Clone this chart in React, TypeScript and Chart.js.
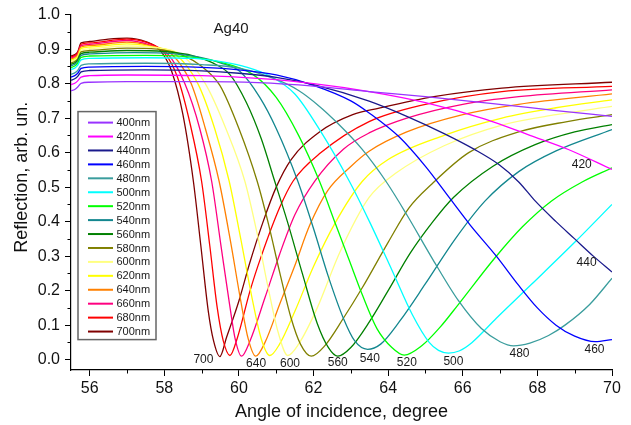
import { useEffect, useRef } from "react";
import { Chart, registerables } from "chart.js";

Chart.register(...registerables);

type Pt = [number, number];

// Reflection vs angle of incidence, one series per wavelength
const r400: Pt[] = [
  [55.5, 0.779], [55.6, 0.783], [55.68, 0.79], [55.77, 0.801], [56.0, 0.804], [57.0, 0.806],
  [59.0, 0.806], [60.5, 0.803], [62.0, 0.793], [63.49, 0.777], [65.0, 0.762], [67.05, 0.739],
  [68.5, 0.722], [70.0, 0.705],
];
const r420: Pt[] = [
  [55.5, 0.797], [55.6, 0.801], [55.68, 0.808], [55.77, 0.819], [56.0, 0.823], [57.0, 0.825],
  [59.0, 0.823], [60.5, 0.815], [62.0, 0.8], [63.49, 0.777], [65.0, 0.745], [66.6, 0.697],
  [67.8, 0.65], [68.83, 0.609], [70.0, 0.551],
];
const r440: Pt[] = [
  [55.5, 0.81], [55.6, 0.814], [55.68, 0.821], [55.77, 0.834], [56.0, 0.838], [57.5, 0.84],
  [59.0, 0.837], [60.0, 0.83], [61.0, 0.818], [62.0, 0.797], [63.49, 0.749], [64.5, 0.705],
  [65.5, 0.655], [66.3, 0.61], [66.96, 0.566], [67.5, 0.515], [67.94, 0.46], [68.5, 0.4],
  [69.0, 0.35], [69.5, 0.3], [70.0, 0.254],
];
const r460: Pt[] = [
  [55.5, 0.819], [55.6, 0.823], [55.68, 0.83], [55.77, 0.844], [56.0, 0.848], [57.5, 0.85],
  [59.0, 0.847], [60.0, 0.84], [61.0, 0.825], [62.0, 0.795], [63.0, 0.75], [63.49, 0.715],
  [64.3, 0.645], [65.0, 0.56], [65.67, 0.465], [66.2, 0.39], [66.9, 0.3], [67.5, 0.215],
  [68.0, 0.15], [68.5, 0.1], [69.0, 0.068], [69.55, 0.052], [70.0, 0.058],
];
const r480: Pt[] = [
  [55.5, 0.827], [55.6, 0.831], [55.68, 0.838], [55.77, 0.853], [56.0, 0.857], [57.5, 0.859],
  [59.0, 0.855], [60.0, 0.845], [61.0, 0.812], [61.6, 0.78], [62.16, 0.734], [62.6, 0.69],
  [63.3, 0.61], [63.94, 0.517], [64.5, 0.42], [65.2, 0.29], [65.89, 0.17], [66.5, 0.09],
  [67.0, 0.052], [67.36, 0.04], [67.8, 0.048], [68.3, 0.07], [68.74, 0.1], [69.4, 0.16],
  [70.0, 0.236],
];
const r500: Pt[] = [
  [55.5, 0.841], [55.6, 0.845], [55.68, 0.853], [55.77, 0.869], [56.0, 0.873], [57.5, 0.875],
  [58.8, 0.873], [59.6, 0.862], [60.2, 0.848], [60.83, 0.822], [61.5, 0.77], [62.2, 0.66],
  [62.96, 0.517], [63.5, 0.4], [64.1, 0.26], [64.65, 0.13], [65.1, 0.05], [65.35, 0.027],
  [65.62, 0.019], [65.9, 0.025], [66.25, 0.05], [66.9, 0.12], [67.85, 0.219], [69.0, 0.34],
  [70.0, 0.45],
];
const r520: Pt[] = [
  [55.5, 0.847], [55.6, 0.851], [55.68, 0.859], [55.77, 0.876], [56.0, 0.88], [57.5, 0.882],
  [58.5, 0.879], [59.5, 0.862], [60.38, 0.826], [61.0, 0.76], [61.6, 0.65], [62.16, 0.517],
  [62.6, 0.39], [62.95, 0.29], [63.3, 0.19], [63.7, 0.09], [64.1, 0.035], [64.43, 0.013],
  [64.9, 0.04], [65.4, 0.095], [65.89, 0.161], [66.87, 0.296], [67.6, 0.385], [68.38, 0.46],
  [69.2, 0.515], [70.0, 0.556],
];
const r540: Pt[] = [
  [55.5, 0.852], [55.6, 0.856], [55.68, 0.864], [55.77, 0.882], [56.0, 0.886], [57.2, 0.89],
  [58.2, 0.887], [59.0, 0.875], [59.5, 0.86], [60.03, 0.835], [60.56, 0.76], [61.0, 0.67],
  [61.58, 0.517], [62.0, 0.38], [62.4, 0.24], [62.8, 0.12], [63.1, 0.055], [63.45, 0.03],
  [63.8, 0.045], [64.3, 0.11], [65.0, 0.22], [65.8, 0.35], [66.6, 0.46], [67.5, 0.545],
  [68.5, 0.605], [70.0, 0.667],
];
const r560: Pt[] = [
  [55.5, 0.856], [55.6, 0.86], [55.68, 0.868], [55.77, 0.887], [56.0, 0.891], [57.0, 0.896],
  [58.0, 0.893], [58.8, 0.88], [59.3, 0.86], [59.76, 0.826], [60.2, 0.745], [60.6, 0.64],
  [60.96, 0.517], [61.3, 0.4], [61.7, 0.25], [62.1, 0.105], [62.4, 0.035], [62.65, 0.01],
  [63.0, 0.035], [63.5, 0.11], [64.0, 0.2], [64.6, 0.31], [65.2, 0.4], [65.75, 0.47],
  [66.8, 0.56], [67.94, 0.623], [69.0, 0.66], [70.0, 0.681],
];
const r580: Pt[] = [
  [55.5, 0.86], [55.6, 0.864], [55.68, 0.872], [55.77, 0.892], [56.0, 0.896], [57.0, 0.903],
  [57.8, 0.9], [58.5, 0.882], [59.0, 0.85], [59.49, 0.795], [60.0, 0.67], [60.49, 0.517],
  [60.8, 0.39], [61.1, 0.25], [61.4, 0.12], [61.65, 0.045], [61.94, 0.01], [62.3, 0.04],
  [62.8, 0.12], [63.31, 0.209], [64.0, 0.34], [64.56, 0.44], [65.18, 0.51], [66.16, 0.6],
  [67.5, 0.66], [68.8, 0.69], [70.0, 0.71],
];
const r600: Pt[] = [
  [55.5, 0.864], [55.6, 0.868], [55.68, 0.876], [55.77, 0.897], [56.0, 0.901], [57.0, 0.909],
  [57.7, 0.905], [58.5, 0.88], [59.1, 0.8], [59.65, 0.67], [60.16, 0.517], [60.5, 0.36],
  [60.8, 0.2], [61.05, 0.08], [61.31, 0.012], [61.6, 0.045], [62.1, 0.15], [62.7, 0.31],
  [63.49, 0.47], [64.2, 0.54], [65.5, 0.62], [67.05, 0.68], [68.5, 0.71], [70.0, 0.734],
];
const r620: Pt[] = [
  [55.5, 0.868], [55.6, 0.872], [55.68, 0.88], [55.77, 0.902], [56.0, 0.906], [57.0, 0.915],
  [57.6, 0.908], [58.3, 0.885], [58.9, 0.8], [59.35, 0.67], [59.74, 0.517], [60.05, 0.35],
  [60.35, 0.18], [60.6, 0.06], [60.83, 0.012], [61.09, 0.045], [61.5, 0.14], [62.0, 0.27],
  [62.6, 0.4], [63.31, 0.517], [64.0, 0.58], [65.5, 0.65], [67.05, 0.7], [68.5, 0.73],
  [70.0, 0.753],
];
const r640: Pt[] = [
  [55.5, 0.871], [55.6, 0.875], [55.68, 0.883], [55.77, 0.906], [56.0, 0.91], [57.0, 0.92],
  [57.6, 0.91], [58.2, 0.885], [58.72, 0.8], [59.1, 0.67], [59.47, 0.517], [59.78, 0.34],
  [60.05, 0.17], [60.25, 0.06], [60.45, 0.01], [60.7, 0.05], [61.09, 0.16], [61.49, 0.27],
  [61.9, 0.39], [62.38, 0.49], [63.0, 0.56], [63.49, 0.604], [64.5, 0.66], [66.0, 0.71],
  [67.5, 0.74], [70.0, 0.77],
];
const r660: Pt[] = [
  [55.5, 0.874], [55.6, 0.878], [55.68, 0.886], [55.77, 0.91], [56.0, 0.914], [57.0, 0.925],
  [57.6, 0.912], [58.1, 0.885], [58.55, 0.8], [58.95, 0.67], [59.27, 0.517], [59.52, 0.33],
  [59.75, 0.16], [59.9, 0.06], [60.07, 0.01], [60.3, 0.055], [60.7, 0.18], [61.09, 0.305],
  [61.5, 0.42], [62.03, 0.517], [62.8, 0.61], [63.49, 0.657], [64.5, 0.7], [66.0, 0.74],
  [67.5, 0.762], [70.0, 0.782],
];
const r680: Pt[] = [
  [55.5, 0.877], [55.6, 0.881], [55.68, 0.889], [55.77, 0.914], [56.0, 0.918], [57.0, 0.929],
  [57.5, 0.92], [58.0, 0.89], [58.35, 0.82], [58.7, 0.68], [59.0, 0.517], [59.22, 0.33],
  [59.42, 0.15], [59.58, 0.055], [59.76, 0.012], [59.95, 0.06], [60.3, 0.2], [60.6, 0.3],
  [61.09, 0.44], [61.45, 0.517], [62.2, 0.6], [63.49, 0.69], [65.0, 0.74], [67.05, 0.777],
  [70.0, 0.792],
];
const r700: Pt[] = [
  [55.5, 0.88], [55.6, 0.884], [55.68, 0.892], [55.77, 0.918], [56.0, 0.922], [56.5, 0.929],
  [57.0, 0.932], [57.5, 0.922], [57.9, 0.895], [58.2, 0.835], [58.5, 0.71], [58.78, 0.517],
  [58.98, 0.33], [59.18, 0.14], [59.32, 0.055], [59.49, 0.009], [59.67, 0.065], [60.0, 0.17],
  [60.29, 0.28], [60.65, 0.4], [61.0, 0.5], [61.4, 0.58], [62.16, 0.66], [63.05, 0.71],
  [63.76, 0.729], [65.27, 0.763], [67.05, 0.787], [70.0, 0.804],
];

const wavelengths = [400, 420, 440, 460, 480, 500, 520, 540, 560, 580, 600, 620, 640, 660, 680, 700];
const curves: Pt[][] = [
  r400, r420, r440, r460, r480, r500, r520, r540, r560, r580, r600, r620, r640, r660, r680, r700,
];
const colors = [
  "#9933ff", "#ff00ff", "#1a1a8c", "#0000ff", "#3a9d9d", "#00ffff", "#00ff00", "#13878f",
  "#008000", "#808000", "#ffff80", "#ffff00", "#ff8000", "#ff0080", "#ff0000", "#800000",
];

const xTicks = [56, 58, 60, 62, 64, 66, 68, 70];
const xMinor = [57, 59, 61, 63, 65, 67, 69];
const yTicks = [0, 0.1, 0.2, 0.3, 0.4, 0.5, 0.6, 0.7, 0.8, 0.9, 1.0];
const yMinor = [0.05, 0.15, 0.25, 0.35, 0.45, 0.55, 0.65, 0.75, 0.85, 0.95];

// dip labels: text, angle, reflection
const dipLabels: [string, number, number][] = [
  ["700", 59.05, -0.001],
  ["640", 60.46, -0.013],
  ["600", 61.37, -0.013],
  ["560", 62.65, -0.009],
  ["540", 63.51, 0.004],
  ["520", 64.5, -0.009],
  ["500", 65.75, -0.006],
  ["480", 67.52, 0.016],
  ["460", 69.53, 0.028],
  ["440", 69.32, 0.282],
  ["420", 69.19, 0.566],
];
const sampleName = "Ag40";
const sampleNamePos: [number, number] = [59.79, 0.958];

const xTitle = "Angle of incidence, degree";
const yTitle = "Reflection, arb. un.";

const FONT = "'Liberation Sans', Arial, Helvetica, sans-serif";

const overlay = {
  id: "overlay",
  afterDraw(chart: any) {
    const { ctx, chartArea } = chart;
    const xs = chart.scales.x;
    const ys = chart.scales.y;
    ctx.save();

    // minor ticks
    ctx.strokeStyle = "#000";
    ctx.lineWidth = 1;
    for (const v of yMinor) {
      const py = Math.round(ys.getPixelForValue(v)) + 0.5;
      ctx.beginPath();
      ctx.moveTo(chartArea.left - 3.5, py);
      ctx.lineTo(chartArea.left, py);
      ctx.stroke();
    }
    for (const v of xMinor) {
      const px = Math.round(xs.getPixelForValue(v)) + 0.5;
      ctx.beginPath();
      ctx.moveTo(px, chartArea.bottom);
      ctx.lineTo(px, chartArea.bottom + 3.5);
      ctx.stroke();
    }

    // wavelength labels at the dips
    ctx.fillStyle = "#1a1a1a";
    ctx.font = `12px ${FONT}`;
    ctx.textAlign = "center";
    ctx.textBaseline = "middle";
    for (const [t, a, r] of dipLabels) {
      ctx.fillText(t, xs.getPixelForValue(a), ys.getPixelForValue(r));
    }

    // sample name
    ctx.font = `15px ${FONT}`;
    ctx.fillText(sampleName, xs.getPixelForValue(sampleNamePos[0]), ys.getPixelForValue(sampleNamePos[1]));

    // axis titles
    ctx.fillStyle = "#111";
    ctx.font = `18px ${FONT}`;
    ctx.fillText(xTitle, (chartArea.left + chartArea.right) / 2, chartArea.bottom + 42);
    ctx.save();
    ctx.translate(chartArea.left - 49, (chartArea.top + chartArea.bottom) / 2 - 15);
    ctx.rotate(-Math.PI / 2);
    ctx.fillText(yTitle, 0, 0);
    ctx.restore();

    // legend box
    const lx = chartArea.left + 7;
    const ly = chartArea.top + 97;
    const lw = 78;
    const lh = 228;
    ctx.fillStyle = "#fff";
    ctx.fillRect(lx, ly, lw, lh);
    ctx.strokeStyle = "#666";
    ctx.lineWidth = 1.5;
    ctx.strokeRect(lx, ly, lw, lh);
    ctx.font = `11px ${FONT}`;
    ctx.textAlign = "left";
    ctx.fillStyle = "#1a1a1a";
    const step = 13.93;
    wavelengths.forEach((w, i) => {
      const ry = ly + 11 + i * step;
      ctx.strokeStyle = colors[i];
      ctx.lineWidth = 2;
      ctx.beginPath();
      ctx.moveTo(lx + 10, ry);
      ctx.lineTo(lx + 35, ry);
      ctx.stroke();
      ctx.fillText(`${w}nm`, lx + 38.5, ry + 0.5);
    });

    ctx.restore();
  },
};

export default function App() {
  const ref = useRef<HTMLCanvasElement | null>(null);

  useEffect(() => {
    document.body.style.margin = "0";
    const canvas = ref.current;
    if (!canvas) return;
    const chart = new Chart(canvas, {
      type: "line",
      data: {
        datasets: curves.map((c, i) => ({
          label: `${wavelengths[i]}nm`,
          data: c.map(([x, y]) => ({ x, y })),
          borderColor: colors[i],
          backgroundColor: colors[i],
          borderWidth: 1.3,
          pointRadius: 0,
          fill: false,
          cubicInterpolationMode: "monotone" as const,
        })),
      },
      options: {
        animation: false,
        responsive: false,
        devicePixelRatio: 1,
        layout: { padding: { left: 0, right: 19, top: 13, bottom: 0 } },
        plugins: { legend: { display: false }, tooltip: { enabled: false } },
        scales: {
          x: {
            type: "linear",
            min: 55.5,
            max: 70,
            afterFit: (s: any) => {
              s.height = 55;
            },
            afterBuildTicks: (s: any) => {
              s.ticks = xTicks.map((v) => ({ value: v }));
            },
            grid: { drawOnChartArea: false, tickLength: 6, color: "#000", tickWidth: 1 },
            border: { color: "#000", width: 1.2 },
            ticks: {
              color: "#111",
              font: { family: FONT, size: 16 },
              padding: 3,
              maxRotation: 0,
              autoSkip: false,
              callback: (v: any) => String(v),
            },
          },
          y: {
            type: "linear",
            min: -0.03,
            max: 1.0,
            afterFit: (s: any) => {
              s.width = 71;
            },
            afterBuildTicks: (s: any) => {
              s.ticks = yTicks.map((v) => ({ value: v }));
            },
            grid: { drawOnChartArea: false, tickLength: 6, color: "#000", tickWidth: 1 },
            border: { color: "#000", width: 1.2 },
            ticks: {
              color: "#111",
              font: { family: FONT, size: 16 },
              padding: 5,
              autoSkip: false,
              callback: (v: any) => Number(v).toFixed(1),
            },
          },
        },
      },
      plugins: [overlay],
    });
    return () => chart.destroy();
  }, []);

  return <canvas ref={ref} width={631} height={425} style={{ display: "block" }} />;
}
